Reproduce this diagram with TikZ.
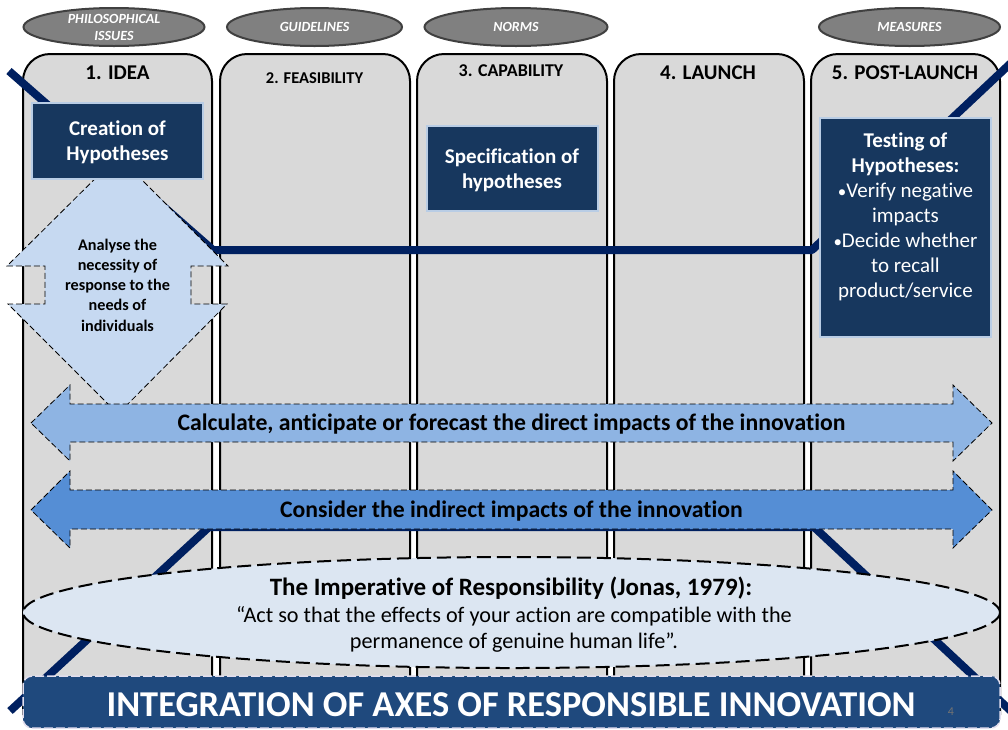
\documentclass[tikz,border=0pt]{standalone}
\usepackage{fontspec}
\usetikzlibrary{shapes.geometric}
\setmainfont[Ligatures=NoCommon]{Carlito}
\definecolor{navy}{RGB}{0,32,96}
\definecolor{panelgray}{RGB}{217,217,217}
\definecolor{boxblue}{RGB}{23,55,94}
\definecolor{boxedge}{RGB}{185,205,229}
\definecolor{paleblue}{RGB}{198,217,241}
\definecolor{midblue}{RGB}{142,180,227}
\definecolor{strongblue}{RGB}{85,142,213}
\definecolor{ellfill}{RGB}{220,230,242}
\definecolor{titleblue}{RGB}{31,73,125}
\definecolor{titleedge}{RGB}{225,222,238}
\newcommand{\smallbullet}{{\fontsize{17}{25}\selectfont•}}
\tikzset{
  panel/.style={draw=black,line width=2pt,fill=panelgray},
  topoval/.style={ellipse,draw=black!75,line width=2pt,fill=black!50,minimum width=181pt,minimum height=38pt,inner sep=0pt,text=white,align=center,font=\fontsize{14}{17}\selectfont\bfseries\itshape},
  head/.style={font=\fontsize{21}{23}\selectfont\bfseries,text=black,inner sep=0pt},
  hypbox/.style={draw=boxedge,line width=2pt,fill=boxblue,text=white,align=center,minimum width=171pt,inner sep=0pt},
  axis/.style={navy,line width=8pt},
  dashline/.style={draw=black,line width=0.8pt,dash pattern=on 6pt off 3pt},
  arrowlabel/.style={font=\fontsize{23.7}{26}\selectfont\bfseries,text=black,inner sep=0pt},
}
\begin{document}
\begin{tikzpicture}[x=1pt,y=-1pt]
\useasboundingbox[fill=white] (0,0) rectangle (1008,729);
% panels
\foreach \l/\r in {23/212,220/410,417/607,614/804,811/1000}{
  \draw[panel,rounded corners=27pt] (\l,715) -- (\l,54) -- (\r,54) -- (\r,715);
}
% axes
\coordinate (ua) at (9,71);
\coordinate (ub) at (213,250);
\coordinate (uc) at (812,250);
\coordinate (ud) at (1012,62);
\coordinate (la) at (10,711);
\coordinate (lb) at (209,527);
\coordinate (lc) at (814,527);
\coordinate (ld) at (1012,712);
\draw[axis,line join=bevel] (ua) -- (ub) -- (uc) -- (ud);
\draw[axis,line join=bevel] (la) -- (lb) -- (lc) -- (ld);
% top ovals
\node[topoval] (o1) at (114,27) {PHILOSOPHICAL\\ISSUES};
\node[topoval,minimum width=175pt] (o2) at (314.5,27) {GUIDELINES};
\node[topoval,minimum width=183pt] (o3) at (516,27) {NORMS};
\node[topoval] (o5) at (909.5,27) {MEASURES};
% headers
\node[head] (h1) at (117.5,73) {1. IDEA};
\node[head,font=\fontsize{16.5}{18}\selectfont\bfseries] (h2) at (314.5,78) {2. FEASIBILITY};
\node[head,font=\fontsize{18}{20}\selectfont\bfseries] (h3) at (511,71) {3. CAPABILITY};
\node[head] (h4) at (708,73) {4. LAUNCH};
\node[head] (h5) at (905,73) {5. POST-LAUNCH};
% vertical double arrow
\draw[dashline,fill=paleblue] (118,156) -- (228,266) -- (191,266) -- (191,304) -- (227,304) -- (118,414) -- (8,304) -- (45,304) -- (45,266) -- (7,266) -- cycle;
\node[font=\fontsize{16.2}{20.3}\selectfont\bfseries,align=center,inner sep=0pt] (need) at (117.5,285) {Analyse the\\necessity of\\response to the\\needs of\\individuals};
% hypothesis boxes
\node[hypbox,minimum height=76pt] (create) at (117.5,141) {};
\node[font=\fontsize{21}{25}\selectfont\bfseries,text=white,align=center,inner sep=0pt] (createtxt) at (117.5,142) {Creation of\\Hypotheses};
\node[hypbox,minimum height=85pt] (spec) at (512,168.5) {};
\node[font=\fontsize{21}{25}\selectfont\bfseries,text=white,align=center,inner sep=0pt] (spectxt) at (512,170.5) {Specification of\\hypotheses};
\node[hypbox,minimum height=219pt] (test) at (905.5,227.5) {};
\node[font=\fontsize{21}{25}\selectfont,text=white,align=center,inner sep=0pt] (testtxt) at (905.5,217) {\textbf{Testing of}\\\textbf{Hypotheses:}\\\smallbullet Verify negative\\impacts\\\smallbullet Decide whether\\to recall\\product/service};
% horizontal arrows
\draw[dashline,fill=midblue] (31,423) -- (70,385) -- (70,404) -- (953,404) -- (953,385) -- (992,423) -- (953,461) -- (953,442) -- (70,442) -- (70,461) -- cycle;
\node[arrowlabel] (direct) at (511.5,424) {Calculate, anticipate or forecast the direct impacts of the innovation};
\draw[dashline,fill=strongblue] (31,510) -- (70,471) -- (70,490) -- (953,490) -- (953,471) -- (992,510) -- (953,548) -- (953,529) -- (70,529) -- (70,548) -- cycle;
\node[arrowlabel] (indirect) at (511.5,511) {Consider the indirect impacts of the innovation};
% imperative
\draw[draw=black,line width=2pt,dash pattern=on 14pt off 6pt,fill=ellfill] (511.5,612.5) ellipse [x radius=488.5,y radius=55.5];
\node[font=\fontsize{25}{28}\selectfont\bfseries,inner sep=0pt] (imp) at (511,588) {The Imperative of Responsibility (Jonas, 1979):};
\node[font=\fontsize{22.2}{26}\selectfont,align=center,inner sep=0pt] (act) at (514,629.5) {“Act so that the effects of your action are compatible with the\\permanence of genuine human life”.};
% title bar
\draw[draw=titleedge,line width=1.5pt,dash pattern=on 9pt off 3pt,fill=titleblue,rounded corners=9pt] (23,676) rectangle (1000,728);
\node[font=\fontsize{36.4}{40}\selectfont\bfseries,text=white,inner sep=0pt] (title) at (511,704.5) {INTEGRATION OF AXES OF RESPONSIBLE INNOVATION};
\node[font=\fontsize{12}{14}\selectfont,text=black!55,inner sep=0pt] (num) at (951,712) {4};
\end{tikzpicture}
\end{document}
